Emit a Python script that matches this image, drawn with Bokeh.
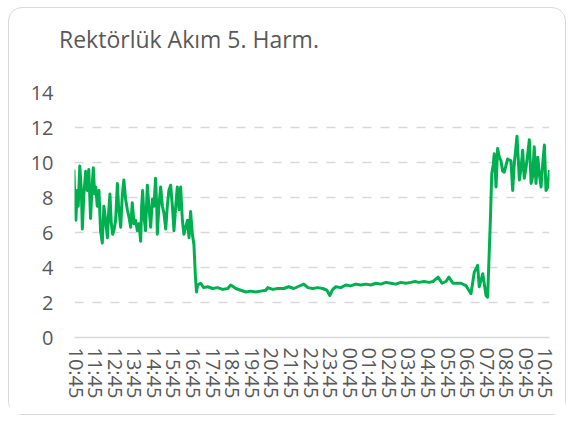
from bokeh.plotting import figure
from bokeh.models import Range1d, FixedTicker, Div
from bokeh.layouts import column
from bokeh.embed import file_html
from bokeh.resources import INLINE

# --- data -------------------------------------------------------------
title_text = "Rektörlük Akım 5. Harm."

tick_hours = list(range(0, 25))
tick_labels = ["10:45", "11:45", "12:45", "13:45", "14:45", "15:45", "16:45",
               "17:45", "18:45", "19:45", "20:45", "21:45", "22:45", "23:45",
               "00:45", "01:45", "02:45", "03:45", "04:45", "05:45", "06:45",
               "07:45", "08:45", "09:45", "10:45"]

y_ticks = [0, 2, 4, 6, 8, 10, 12, 14]

# hours elapsed since 10:45
hours = [
    -0.11, -0.08, -0.01, 0.06, 0.11, 0.19, 0.27, 0.32, 0.40, 0.49, 0.57, 0.65,
    0.74, 0.81, 0.88, 0.95, 1.01, 1.08, 1.17, 1.25, 1.34, 1.42, 1.51, 1.60,
    1.66, 1.73, 1.80, 1.87, 1.93, 2.02, 2.11, 2.17, 2.28, 2.36, 2.44, 2.53,
    2.62, 2.70, 2.79, 2.87, 2.96, 3.04, 3.13, 3.21, 3.30, 3.35, 3.40, 3.47,
    3.55, 3.64, 3.72, 3.81, 3.90, 3.98, 4.06, 4.12, 4.15, 4.23, 4.32, 4.41,
    4.49, 4.58, 4.66, 4.74, 4.83, 4.92, 5.00, 5.09, 5.17, 5.26, 5.34, 5.43,
    5.51, 5.60, 5.69, 5.77, 5.85, 5.94, 6.02, 6.09, 6.15,
    6.21, 6.36, 6.52, 6.72, 6.98, 7.23, 7.49, 7.75, 7.90, 8.16, 8.41, 8.67,
    8.92, 9.18, 9.43, 9.69, 9.79, 10.05, 10.30, 10.61, 10.86, 11.12, 11.32,
    11.63, 11.84, 12.09, 12.35, 12.60, 12.81, 12.96, 13.11, 13.27, 13.52,
    13.78, 14.03, 14.29, 14.54, 14.80, 15.06, 15.31, 15.57, 15.82, 16.08,
    16.33, 16.59, 16.85, 17.10, 17.31, 17.51, 17.77, 18.03, 18.23, 18.49,
    18.69, 18.89, 19.04, 19.25, 19.45, 19.66, 19.91, 20.17, 20.34, 20.51,
    20.59, 20.77, 20.94, 21.02,
    21.16, 21.23, 21.31, 21.36, 21.45, 21.53, 21.62, 21.70, 21.79, 21.87,
    22.04, 22.21, 22.30, 22.38, 22.52, 22.59, 22.64, 22.73, 22.81, 22.89,
    22.98, 23.07, 23.15, 23.24, 23.32, 23.40, 23.49, 23.58, 23.66, 23.75,
    23.83, 23.92, 24.00, 24.09, 24.17, 24.20,
]

current = [
    9.6, 8.5, 6.7, 8.4, 7.5, 9.8, 8.4, 6.2, 8.2, 9.5, 8.4, 9.6,
    6.8, 8.4, 9.7, 8.2, 8.6, 7.5, 8.4, 6.1, 5.4, 7.5, 6.7, 5.7,
    7.1, 8.2, 6.5, 5.9, 6.1, 6.7, 8.8, 7.5, 6.3, 8.1, 9.0, 7.9,
    7.3, 6.9, 6.3, 7.7, 6.5, 6.7, 6.1, 6.5, 5.5, 7.5, 8.4, 6.9,
    6.1, 8.7, 7.5, 6.3, 7.9, 7.5, 9.1, 7.5, 5.9, 7.5, 8.6, 7.5,
    7.1, 6.2, 7.5, 8.4, 8.7, 7.5, 6.1, 7.5, 8.6, 7.3, 8.6, 6.7,
    5.9, 6.3, 6.7, 5.7, 7.2, 5.9, 5.3, 3.6, 2.6,
    3.0, 3.1, 2.85, 2.9, 2.8, 2.85, 2.75, 2.8, 3.0, 2.8, 2.7, 2.6,
    2.65, 2.6, 2.65, 2.7, 2.85, 2.75, 2.8, 2.8, 2.9, 2.8, 2.9,
    3.05, 2.85, 2.8, 2.85, 2.8, 2.7, 2.4, 2.75, 2.9, 2.85,
    3.0, 2.95, 3.05, 3.0, 3.05, 3.0, 3.1, 3.05, 3.15, 3.1,
    3.05, 3.15, 3.1, 3.15, 3.2, 3.15, 3.2, 3.15, 3.2, 3.45,
    3.1, 3.2, 3.45, 3.1, 3.1, 3.1, 2.97, 2.5, 3.74, 4.12,
    2.9, 3.64, 2.4, 2.3,
    6.7, 9.35, 9.9, 10.5, 8.6, 10.8, 10.3, 10.1, 9.5, 9.45,
    10.2, 10.1, 8.4, 9.9, 11.5, 10.1, 9.0, 9.7, 10.7, 9.1,
    9.7, 10.5, 11.3, 8.8, 9.2, 10.9, 8.8, 10.3, 9.35, 8.6,
    9.9, 11.0, 8.4, 8.6, 9.5, 9.0,
]

# --- styling ------------------------------------------------------------
FONT = "Open Sans"
TXT = "#595959"
GRID = "#d9d9d9"
GREEN = "#00b050"

header = Div(
    text=('<div style="text-align:center;padding-left:50px;'
          'font-family:\'Open Sans\';font-size:23px;color:#595959;'
          'line-height:62px;white-space:nowrap;">' + title_text + '</div>'),
    width=556, height=62, margin=(0, 0, 0, 0))

p = figure(width=556, height=344, output_backend="svg", toolbar_location=None,
           x_range=Range1d(-0.08, 24.18), y_range=Range1d(0, 14),
           min_border_left=65, min_border_right=16, min_border_top=22,
           min_border_bottom=77, margin=(0, 0, 0, 0))
p.outline_line_color = None
p.background_fill_color = "white"
p.border_fill_color = "white"

p.line(hours, current, line_color=GREEN, line_width=3, line_join="round")

# x axis
xa = p.xaxis[0]
xa.ticker = FixedTicker(ticks=tick_hours)
xa.major_label_overrides = {h: lab for h, lab in zip(tick_hours, tick_labels)}
xa.major_label_orientation = "vertical"
xa.axis_line_color = GRID
xa.axis_line_width = 1.5
xa.major_tick_line_color = None
xa.minor_tick_line_color = None
xa.major_tick_out = 0
xa.major_tick_in = 0
xa.major_label_standoff = 10
xa.major_label_text_font = FONT
xa.major_label_text_font_size = "20px"
xa.major_label_text_color = TXT

# y axis
ya = p.yaxis[0]
ya.ticker = FixedTicker(ticks=y_ticks)
ya.axis_line_color = None
ya.major_tick_line_color = None
ya.minor_tick_line_color = None
ya.major_tick_out = 0
ya.major_tick_in = 0
ya.major_label_standoff = 21
ya.major_label_text_font = FONT
ya.major_label_text_font_size = "20px"
ya.major_label_text_color = TXT

p.xgrid.grid_line_color = None
p.ygrid.ticker = FixedTicker(ticks=y_ticks[1:])
p.ygrid.grid_line_color = GRID
p.ygrid.grid_line_width = 1.5
p.ygrid.grid_line_dash = "9 9"

layout = column(header, p, spacing=0,
                styles={"border": "1px solid #d9d9d9", "border-radius": "14px",
                        "margin-left": "8px", "margin-top": "7px",
                        "background-color": "white"})

open("out.html", "w").write(file_html(layout, INLINE))
